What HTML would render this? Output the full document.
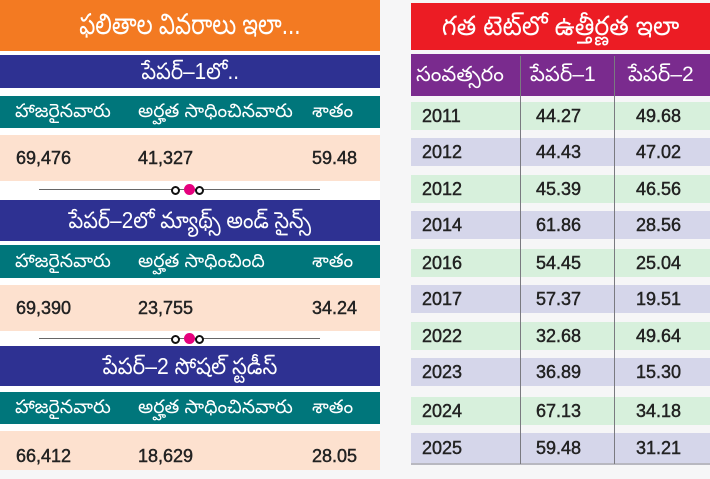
<!DOCTYPE html>
<html>
<head>
<meta charset="utf-8">
<style>
html,body{margin:0;padding:0;}
body{width:710px;height:470px;position:relative;overflow:hidden;background:#f6f6f7;font-family:"Liberation Sans","Noto Sans CJK SC",sans-serif;}
.b{position:absolute;overflow:hidden;white-space:nowrap;}
.t{position:absolute;white-space:nowrap;}
.or{background:#f37a22;}
.nv{background:#2e3192;}
.tl{background:#00767b;}
.pc{background:#fde1cf;}
.wh{background:#ffffff;}
.ttl{color:#fff;text-align:center;}
.ttl span{display:inline-block;}
.hd{color:#fff;font-size:19px;}
.num{color:#222;font-size:18px;-webkit-text-stroke:0.45px #222;}
.rd{background:#ec1c24;}
.pu{background:#7a2b8e;}
.gr{background:#d7f0dc;}
.lv{background:#d5d6ea;}
.rv{color:#222;font-size:18px;-webkit-text-stroke:0.45px #222;}
</style>
</head>
<body>
<!-- LEFT PANEL -->
<div class="b wh" style="left:0;top:0;width:380px;height:470px;"></div>
<div class="b or ttl" style="left:0;top:0;width:380px;height:51px;line-height:51px;font-size:29px;"><span style="transform:scaleX(0.78);">ఫలితాల వివరాలు ఇలా...</span></div>

<div class="b nv ttl" style="left:0;top:55px;width:380px;height:33px;line-height:33px;font-size:23px;"><span style="transform:scaleX(0.9);">పేపర్‌–1లో..</span></div>
<div class="b tl" style="left:0;top:96px;width:380px;height:32px;"></div>
<div class="t hd" style="left:15px;top:96px;line-height:32px;">హాజరైనవారు</div>
<div class="t hd" style="left:138px;top:96px;line-height:32px;">అర్హత సాధించినవారు</div>
<div class="t hd" style="left:312px;top:96px;line-height:32px;">శాతం</div>
<div class="b pc" style="left:0;top:135px;width:380px;height:46px;"></div>
<div class="t num" style="left:16px;top:135px;line-height:46px;">69,476</div>
<div class="t num" style="left:138px;top:135px;line-height:46px;">41,327</div>
<div class="t num" style="left:312px;top:135px;line-height:46px;">59.48</div>

<!-- divider 1 -->
<div class="b" style="left:39px;top:189px;width:281px;height:1px;background:#666;"></div>
<div class="b" style="left:171px;top:186px;width:5px;height:5px;border:2px solid #111;border-radius:50%;background:#fff;"></div>
<div class="b" style="left:184px;top:184px;width:11px;height:11px;border-radius:50%;background:#e5007d;"></div>
<div class="b" style="left:195px;top:186px;width:5px;height:5px;border:2px solid #111;border-radius:50%;background:#fff;"></div>

<div class="b nv ttl" style="left:0;top:200px;width:380px;height:41px;line-height:41px;font-size:23px;"><span style="transform:scaleX(0.9);">పేపర్‌–2లో మ్యాథ్స్‌ అండ్‌ సైన్స్‌</span></div>
<div class="b tl" style="left:0;top:245px;width:380px;height:33px;"></div>
<div class="t hd" style="left:15px;top:245px;line-height:33px;">హాజరైనవారు</div>
<div class="t hd" style="left:138px;top:245px;line-height:33px;">అర్హత సాధించింది</div>
<div class="t hd" style="left:312px;top:245px;line-height:33px;">శాతం</div>
<div class="b pc" style="left:0;top:285px;width:380px;height:46px;"></div>
<div class="t num" style="left:16px;top:285px;line-height:46px;">69,390</div>
<div class="t num" style="left:138px;top:285px;line-height:46px;">23,755</div>
<div class="t num" style="left:312px;top:285px;line-height:46px;">34.24</div>

<!-- divider 2 -->
<div class="b" style="left:39px;top:338px;width:281px;height:1px;background:#666;"></div>
<div class="b" style="left:171px;top:335px;width:5px;height:5px;border:2px solid #111;border-radius:50%;background:#fff;"></div>
<div class="b" style="left:184px;top:333px;width:11px;height:11px;border-radius:50%;background:#e5007d;"></div>
<div class="b" style="left:195px;top:335px;width:5px;height:5px;border:2px solid #111;border-radius:50%;background:#fff;"></div>

<div class="b nv ttl" style="left:0;top:346px;width:380px;height:40px;line-height:40px;font-size:23px;"><span style="transform:scaleX(0.92);">పేపర్‌–2 సోషల్‌ స్టడీస్‌</span></div>
<div class="b tl" style="left:0;top:392px;width:380px;height:32px;"></div>
<div class="t hd" style="left:15px;top:392px;line-height:32px;">హాజరైనవారు</div>
<div class="t hd" style="left:138px;top:392px;line-height:32px;">అర్హత సాధించినవారు</div>
<div class="t hd" style="left:312px;top:392px;line-height:32px;">శాతం</div>
<div class="b pc" style="left:0;top:431px;width:380px;height:39px;"></div>
<div class="t num" style="left:16px;top:433px;line-height:46px;">66,412</div>
<div class="t num" style="left:138px;top:433px;line-height:46px;">18,629</div>
<div class="t num" style="left:312px;top:433px;line-height:46px;">28.05</div>

<!-- RIGHT PANEL -->
<div class="b rd ttl" style="left:411px;top:3px;width:299px;height:47px;line-height:47px;font-size:27px;"><span style="transform:scaleX(0.93);">గత టెట్‌లో ఉత్తీర్ణత ఇలా</span></div>
<div class="b pu" style="left:411px;top:54px;width:299px;height:42px;"></div>
<div class="t hd" style="left:416px;top:54px;line-height:42px;font-size:21px;">సంవత్సరం</div>
<div class="t hd" style="left:530px;top:54px;line-height:42px;font-size:21px;">పేపర్‌–1</div>
<div class="t hd" style="left:628px;top:54px;line-height:42px;font-size:21px;">పేపర్‌–2</div>

<div class="b gr" style="left:411px;top:102px;width:299px;height:28px;"></div>
<div class="b lv" style="left:411px;top:138px;width:299px;height:28px;"></div>
<div class="b gr" style="left:411px;top:175px;width:299px;height:28px;"></div>
<div class="b lv" style="left:411px;top:211px;width:299px;height:28px;"></div>
<div class="b gr" style="left:411px;top:249px;width:299px;height:28px;"></div>
<div class="b lv" style="left:411px;top:285px;width:299px;height:28px;"></div>
<div class="b gr" style="left:411px;top:322px;width:299px;height:28px;"></div>
<div class="b lv" style="left:411px;top:358px;width:299px;height:28px;"></div>
<div class="b gr" style="left:411px;top:397px;width:299px;height:28px;"></div>
<div class="b lv" style="left:411px;top:433px;width:299px;height:30px;"></div>
<div class="b" style="left:411px;top:463px;width:299px;height:2px;background:#b8b8c0;"></div>

<div class="b" style="left:520px;top:56px;width:1px;height:408px;background:#7a7a80;"></div>
<div class="b" style="left:614px;top:56px;width:1px;height:408px;background:#7a7a80;"></div>

<div class="t rv" style="left:422px;top:102px;line-height:28px;">2011</div>
<div class="t rv" style="left:536px;top:102px;line-height:28px;">44.27</div>
<div class="t rv" style="left:636px;top:102px;line-height:28px;">49.68</div>

<div class="t rv" style="left:422px;top:138px;line-height:28px;">2012</div>
<div class="t rv" style="left:536px;top:138px;line-height:28px;">44.43</div>
<div class="t rv" style="left:636px;top:138px;line-height:28px;">47.02</div>

<div class="t rv" style="left:422px;top:175px;line-height:28px;">2012</div>
<div class="t rv" style="left:536px;top:175px;line-height:28px;">45.39</div>
<div class="t rv" style="left:636px;top:175px;line-height:28px;">46.56</div>

<div class="t rv" style="left:422px;top:211px;line-height:28px;">2014</div>
<div class="t rv" style="left:536px;top:211px;line-height:28px;">61.86</div>
<div class="t rv" style="left:636px;top:211px;line-height:28px;">28.56</div>

<div class="t rv" style="left:422px;top:249px;line-height:28px;">2016</div>
<div class="t rv" style="left:536px;top:249px;line-height:28px;">54.45</div>
<div class="t rv" style="left:636px;top:249px;line-height:28px;">25.04</div>

<div class="t rv" style="left:422px;top:285px;line-height:28px;">2017</div>
<div class="t rv" style="left:536px;top:285px;line-height:28px;">57.37</div>
<div class="t rv" style="left:636px;top:285px;line-height:28px;">19.51</div>

<div class="t rv" style="left:422px;top:322px;line-height:28px;">2022</div>
<div class="t rv" style="left:536px;top:322px;line-height:28px;">32.68</div>
<div class="t rv" style="left:636px;top:322px;line-height:28px;">49.64</div>

<div class="t rv" style="left:422px;top:358px;line-height:28px;">2023</div>
<div class="t rv" style="left:536px;top:358px;line-height:28px;">36.89</div>
<div class="t rv" style="left:636px;top:358px;line-height:28px;">15.30</div>

<div class="t rv" style="left:422px;top:397px;line-height:28px;">2024</div>
<div class="t rv" style="left:536px;top:397px;line-height:28px;">67.13</div>
<div class="t rv" style="left:636px;top:397px;line-height:28px;">34.18</div>

<div class="t rv" style="left:422px;top:433px;line-height:30px;">2025</div>
<div class="t rv" style="left:536px;top:433px;line-height:30px;">59.48</div>
<div class="t rv" style="left:636px;top:433px;line-height:30px;">31.21</div>
</body>
</html>
